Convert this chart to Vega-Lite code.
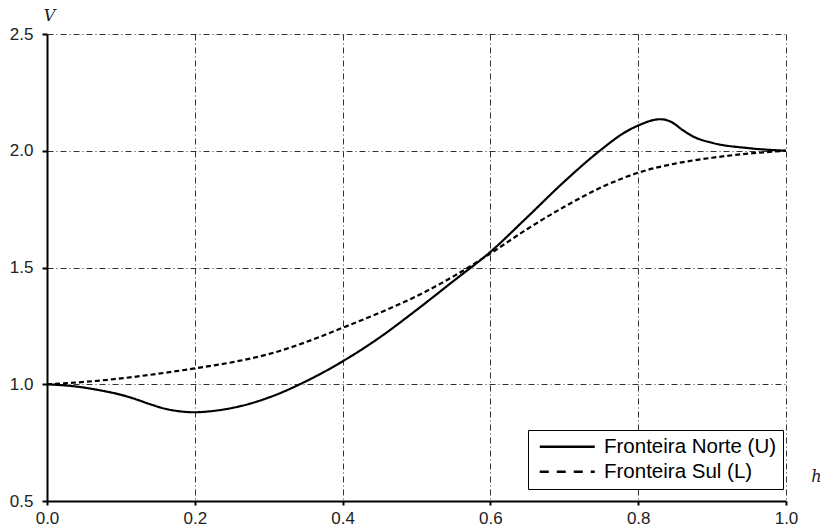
{
  "$schema": "https://vega.github.io/schema/vega-lite/v6.json",
  "autosize": "none",
  "width": 739,
  "height": 467,
  "padding": {"left": 47, "top": 34, "right": 42, "bottom": 31},
  "background": "white",
  "config": {
    "view": {"stroke": null},
    "font": "Liberation Sans"
  },
  "data": {
    "values": [
      {"h": 0.0, "V": 1.0, "s": "Fronteira Norte (U)"},
      {"h": 0.04, "V": 0.99, "s": "Fronteira Norte (U)"},
      {"h": 0.08, "V": 0.969, "s": "Fronteira Norte (U)"},
      {"h": 0.1, "V": 0.955, "s": "Fronteira Norte (U)"},
      {"h": 0.12, "V": 0.936, "s": "Fronteira Norte (U)"},
      {"h": 0.14, "V": 0.914, "s": "Fronteira Norte (U)"},
      {"h": 0.16, "V": 0.895, "s": "Fronteira Norte (U)"},
      {"h": 0.18, "V": 0.884, "s": "Fronteira Norte (U)"},
      {"h": 0.2, "V": 0.880, "s": "Fronteira Norte (U)"},
      {"h": 0.22, "V": 0.884, "s": "Fronteira Norte (U)"},
      {"h": 0.26, "V": 0.905, "s": "Fronteira Norte (U)"},
      {"h": 0.3, "V": 0.943, "s": "Fronteira Norte (U)"},
      {"h": 0.35, "V": 1.012, "s": "Fronteira Norte (U)"},
      {"h": 0.4, "V": 1.098, "s": "Fronteira Norte (U)"},
      {"h": 0.45, "V": 1.2, "s": "Fronteira Norte (U)"},
      {"h": 0.5, "V": 1.318, "s": "Fronteira Norte (U)"},
      {"h": 0.55, "V": 1.442, "s": "Fronteira Norte (U)"},
      {"h": 0.6, "V": 1.567, "s": "Fronteira Norte (U)"},
      {"h": 0.65, "V": 1.716, "s": "Fronteira Norte (U)"},
      {"h": 0.7, "V": 1.868, "s": "Fronteira Norte (U)"},
      {"h": 0.75, "V": 2.005, "s": "Fronteira Norte (U)"},
      {"h": 0.78, "V": 2.075, "s": "Fronteira Norte (U)"},
      {"h": 0.8, "V": 2.108, "s": "Fronteira Norte (U)"},
      {"h": 0.83, "V": 2.135, "s": "Fronteira Norte (U)"},
      {"h": 0.845, "V": 2.123, "s": "Fronteira Norte (U)"},
      {"h": 0.86, "V": 2.089, "s": "Fronteira Norte (U)"},
      {"h": 0.875, "V": 2.06, "s": "Fronteira Norte (U)"},
      {"h": 0.9, "V": 2.034, "s": "Fronteira Norte (U)"},
      {"h": 0.95, "V": 2.011, "s": "Fronteira Norte (U)"},
      {"h": 1.0, "V": 2.0, "s": "Fronteira Norte (U)"},
      {"h": 0.0, "V": 1.0, "s": "Fronteira Sul (L)"},
      {"h": 0.05, "V": 1.01, "s": "Fronteira Sul (L)"},
      {"h": 0.1, "V": 1.025, "s": "Fronteira Sul (L)"},
      {"h": 0.15, "V": 1.045, "s": "Fronteira Sul (L)"},
      {"h": 0.2, "V": 1.068, "s": "Fronteira Sul (L)"},
      {"h": 0.25, "V": 1.094, "s": "Fronteira Sul (L)"},
      {"h": 0.3, "V": 1.129, "s": "Fronteira Sul (L)"},
      {"h": 0.35, "V": 1.18, "s": "Fronteira Sul (L)"},
      {"h": 0.4, "V": 1.242, "s": "Fronteira Sul (L)"},
      {"h": 0.45, "V": 1.306, "s": "Fronteira Sul (L)"},
      {"h": 0.5, "V": 1.377, "s": "Fronteira Sul (L)"},
      {"h": 0.55, "V": 1.462, "s": "Fronteira Sul (L)"},
      {"h": 0.6, "V": 1.56, "s": "Fronteira Sul (L)"},
      {"h": 0.65, "V": 1.665, "s": "Fronteira Sul (L)"},
      {"h": 0.7, "V": 1.76, "s": "Fronteira Sul (L)"},
      {"h": 0.75, "V": 1.843, "s": "Fronteira Sul (L)"},
      {"h": 0.8, "V": 1.906, "s": "Fronteira Sul (L)"},
      {"h": 0.85, "V": 1.945, "s": "Fronteira Sul (L)"},
      {"h": 0.9, "V": 1.97, "s": "Fronteira Sul (L)"},
      {"h": 0.95, "V": 1.988, "s": "Fronteira Sul (L)"},
      {"h": 1.0, "V": 2.0, "s": "Fronteira Sul (L)"}
    ]
  },
  "encoding": {
    "x": {
      "field": "h", "type": "quantitative",
      "scale": {"domain": [0, 1], "nice": false, "zero": false},
      "axis": {
        "values": [0, 0.2, 0.4, 0.6, 0.8, 1.0], "format": ".1f",
        "title": "h", "titleFont": "DejaVu Serif", "titleFontStyle": "italic", "titleFontWeight": "normal",
        "titleFontSize": 16, "titleColor": "#222", "titleX": 769, "titleY": -20, "titleAlign": "center",
        "titleBaseline": "alphabetic", "titleAnchor": null,
        "labelFont": "Liberation Sans", "labelFontSize": 17, "labelColor": "#222", "labelPadding": 5,
        "labelFlush": false,
        "domainColor": "black", "domainWidth": 2, "tickColor": "black", "tickWidth": 2, "tickSize": 4,
        "grid": true, "gridColor": "#333", "gridWidth": 1, "gridDash": [6, 3, 1, 3]
      }
    },
    "y": {
      "field": "V", "type": "quantitative",
      "scale": {"domain": [0.5, 2.5], "nice": false, "zero": false},
      "axis": {
        "values": [0.5, 1.0, 1.5, 2.0, 2.5], "format": ".1f",
        "title": "V", "titleFont": "DejaVu Serif", "titleFontStyle": "italic", "titleFontWeight": "normal",
        "titleFontSize": 16, "titleColor": "#222", "titleAngle": 0, "titleX": 2, "titleY": -14,
        "titleAlign": "center", "titleBaseline": "alphabetic", "titleAnchor": null,
        "labelFont": "Liberation Sans", "labelFontSize": 17, "labelColor": "#222", "labelPadding": 9,
        "labelFlush": false,
        "domainColor": "black", "domainWidth": 2, "tickColor": "black", "tickWidth": 2, "tickSize": 5,
        "grid": true, "gridColor": "#333", "gridWidth": 1, "gridDash": [6, 3, 1, 3]
      }
    }
  },
  "layer": [
    {
      "mark": {"type": "line", "interpolate": "monotone", "color": "black", "strokeWidth": 2.2},
      "encoding": {
        "strokeDash": {
          "field": "s", "type": "nominal",
          "scale": {"domain": ["Fronteira Norte (U)", "Fronteira Sul (L)"], "range": [[1, 0], [5, 3]]},
          "legend": null
        }
      }
    },
    {
      "transform": [{"filter": "datum.h > 5"}],
      "mark": {"type": "line", "color": "black", "strokeWidth": 2.2},
      "encoding": {
        "strokeDash": {
          "field": "s", "type": "nominal",
          "scale": {"domain": ["Fronteira Norte (U)", "Fronteira Sul (L)"], "range": [[1, 0], [9, 8]]},
          "legend": {
            "title": null, "orient": "none", "legendX": 481, "legendY": 396,
            "symbolType": "M-1,0H10", "symbolSize": 100, "symbolStrokeWidth": 2.6, "symbolStrokeColor": "black",
            "labelFont": "Liberation Sans", "labelFontSize": 20.5, "labelColor": "black", "labelOffset": 49,
            "labelLimit": 400,
            "rowPadding": 4, "padding": 6.5, "strokeColor": "black", "fillColor": "white", "cornerRadius": 0
          }
        }
      }
    }
  ],
  "resolve": {"scale": {"strokeDash": "independent"}, "legend": {"strokeDash": "independent"}}
}
